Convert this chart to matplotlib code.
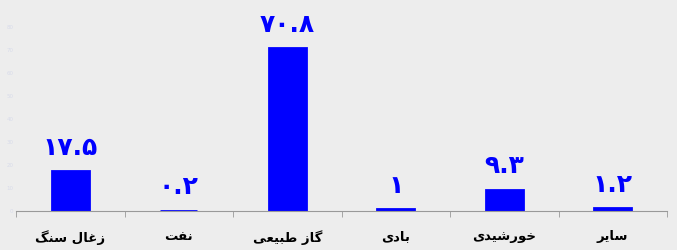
import matplotlib
matplotlib.use('Agg')
from matplotlib import pyplot as plt
import numpy as np

# سهم منابع انرژی
categories = ['زغال سنگ', 'نفت', 'گاز طبیعی', 'بادی', 'خورشیدی', 'سایر']
values = [17.5, 0.2, 70.8, 1, 9.3, 1.2]
yticks = [0, 10, 20, 30, 40, 50, 60, 70, 80]

# presentation forms: isolated, final, initial, medial
FORMS = {
    'ا': ('\uFE8D', '\uFE8E', None, None),
    'ب': ('\uFE8F', '\uFE90', '\uFE91', '\uFE92'),
    'ت': ('\uFE95', '\uFE96', '\uFE97', '\uFE98'),
    'خ': ('\uFEA5', '\uFEA6', '\uFEA7', '\uFEA8'),
    'د': ('\uFEA9', '\uFEAA', None, None),
    'ر': ('\uFEAD', '\uFEAE', None, None),
    'ز': ('\uFEAF', '\uFEB0', None, None),
    'س': ('\uFEB1', '\uFEB2', '\uFEB3', '\uFEB4'),
    'ش': ('\uFEB5', '\uFEB6', '\uFEB7', '\uFEB8'),
    'ط': ('\uFEC1', '\uFEC2', '\uFEC3', '\uFEC4'),
    'ع': ('\uFEC9', '\uFECA', '\uFECB', '\uFECC'),
    'غ': ('\uFECD', '\uFECE', '\uFECF', '\uFED0'),
    'ف': ('\uFED1', '\uFED2', '\uFED3', '\uFED4'),
    'ل': ('\uFEDD', '\uFEDE', '\uFEDF', '\uFEE0'),
    'ن': ('\uFEE5', '\uFEE6', '\uFEE7', '\uFEE8'),
    'و': ('\uFEED', '\uFEEE', None, None),
    'ک': ('\uFB8E', '\uFB8F', '\uFB90', '\uFB91'),
    'گ': ('\uFB92', '\uFB93', '\uFB94', '\uFB95'),
    'ی': ('\uFBFC', '\uFBFD', '\uFBFE', '\uFBFF'),
}


def shape(text):
    out = []
    for i, ch in enumerate(text):
        if ch not in FORMS:
            out.append(ch)
            continue
        prev = text[i - 1] if i > 0 else ''
        nxt = text[i + 1] if i + 1 < len(text) else ''
        join_prev = prev in FORMS and FORMS[prev][2] is not None
        join_next = nxt in FORMS and FORMS[ch][2] is not None
        f = FORMS[ch]
        if join_prev and join_next:
            out.append(f[3])
        elif join_prev:
            out.append(f[1])
        elif join_next:
            out.append(f[2])
        else:
            out.append(f[0])
    return ''.join(reversed(out))


def fa_digits(v):
    s = ('%g' % v)
    return s.translate(str.maketrans('0123456789', '۰۱۲۳۴۵۶۷۸۹'))


plt.rcParams['font.family'] = ['DejaVu Sans']

fig = plt.figure(figsize=(6.77, 2.5), dpi=100)
fig.patch.set_facecolor('#ededed')
ax = fig.add_axes([16 / 677, 39 / 250, 651 / 677, 211 / 250])
ax.set_facecolor('#ededed')

x = np.arange(len(categories))
ax.bar(x, values, width=0.34, color='#0000ff', edgecolor='#0000ff', linewidth=2)

for xi, v in zip(x, values):
    ax.annotate(fa_digits(v), (xi, v), xytext=(0, 8), textcoords='offset points',
                ha='center', va='bottom', color='#0000ff', fontsize=18, fontweight='bold')

ax.set_xlim(-0.5, len(categories) - 0.5)
ax.set_ylim(0, 91.7)
ax.set_xticks(x)
ax.set_xticklabels([shape(c) for c in categories], fontsize=9.5, fontweight='bold')
ax.tick_params(axis='x', which='major', length=0, pad=14)
ax.set_xticks(np.arange(len(categories) + 1) - 0.5, minor=True)
ax.tick_params(axis='x', which='minor', length=4, color='#999999', direction='out')

ax.set_yticks(yticks)
ax.set_yticklabels([str(t) for t in yticks], fontsize=4, color='#d8dbea')
ax.tick_params(axis='y', length=0, pad=2)

for s in ['top', 'right', 'left']:
    ax.spines[s].set_visible(False)
ax.spines['bottom'].set_color('#999999')

fig.savefig('out.png', dpi=100, facecolor=fig.get_facecolor())
